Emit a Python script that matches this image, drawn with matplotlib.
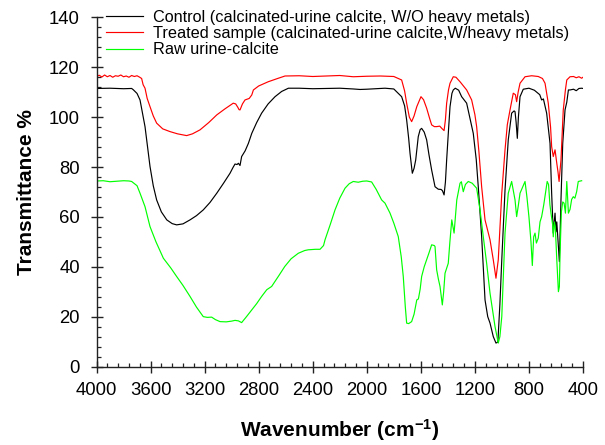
import matplotlib
matplotlib.use("Agg")
import matplotlib.pyplot as plt
from matplotlib.ticker import MultipleLocator

plt.rcParams['font.family'] = ['Liberation Sans', 'DejaVu Sans']
plt.rcParams['axes.unicode_minus'] = False
plt.rcParams['mathtext.default'] = 'regular'

# ---- data (wavenumber cm^-1, transmittance %) ----
control_wn = [4000, 3900, 3800, 3740, 3728, 3700, 3678, 3641, 3604, 3580, 3555, 3520, 3480, 3440,
              3407, 3360, 3308, 3260, 3210, 3160, 3110, 3060, 3012, 2990, 2975, 2960, 2950, 2938,
              2926, 2900, 2876, 2851, 2815, 2778, 2730, 2679, 2630, 2580, 2500, 2400, 2300, 2200,
              2100, 2050, 2000, 1900, 1865, 1800, 1742, 1720, 1705, 1690, 1680, 1663, 1650, 1638,
              1619, 1605, 1594, 1575, 1557, 1540, 1520, 1495, 1471, 1450, 1440, 1428, 1418, 1409,
              1395, 1384, 1370, 1360, 1345, 1320, 1298, 1261, 1212, 1190, 1175, 1150, 1125, 1105,
              1088, 1064, 1044, 1030, 1015, 1001, 977, 953, 928, 910, 903, 895, 886, 878, 866, 842,
              800, 760, 720, 706, 693, 669, 644, 632, 620, 607, 600, 594, 582, 575, 563, 550, 533,
              520, 508, 496, 470, 450, 430, 410, 400]
control_t = [111.5, 111.6, 111.4, 111.5, 111.0, 109.5, 106.9, 96.2, 80.2, 72.5, 66.8, 62.0, 58.8, 57.3,
             56.8, 57.2, 58.8, 60.5, 62.8, 65.8, 69.5, 73.5, 77.5, 79.8, 81.2, 81.0, 81.5, 80.6,
             84.2, 86.5, 89.5, 93.5, 97.8, 101.6, 105.3, 108.2, 110.3, 111.6, 111.6, 111.4, 111.5, 111.6,
             111.3, 111.1, 111.2, 111.5, 111.6, 111.3, 108.2, 104.5, 98.9, 91.5, 85.5, 77.5, 79.5, 82.8,
             92.2, 95.0, 95.5, 94.0, 90.9, 85.0, 78.8, 72.1, 71.1, 71.0, 70.5, 68.8, 74.0, 82.8,
             95.0, 104.2, 109.5, 110.9, 111.6, 110.8, 108.2, 105.6, 93.5, 83.0, 72.1, 52.1, 26.7, 20.0,
             17.4, 12.0, 9.4, 9.8, 25.0, 42.8, 70.8, 90.9, 101.6, 102.5, 102.2, 98.0, 91.5, 100.0, 108.2, 111.2,
             111.6, 110.8, 109.0, 106.9, 107.3, 101.6, 89.5, 69.5, 53.5, 61.5, 54.0, 58.0, 48.1, 42.1, 66.8, 89.5, 102.9,
             106.0, 110.9, 110.9, 111.2, 110.6, 111.5, 111.6, 111.5]

treated_wn = [4000, 3980, 3960, 3940, 3920, 3900, 3880, 3860, 3840, 3820, 3800, 3780, 3760, 3740,
              3720, 3700, 3680, 3666, 3655, 3641, 3625, 3604, 3580, 3555, 3510, 3456, 3400, 3333,
              3290, 3234, 3170, 3110, 3050, 2988, 2970, 2955, 2945, 2938, 2920, 2901, 2870, 2851,
              2839, 2800, 2729, 2660, 2605, 2500, 2400, 2300, 2200, 2100, 2000, 1900, 1800, 1742,
              1720, 1705, 1685, 1668, 1650, 1630, 1599, 1580, 1557, 1535, 1520, 1500, 1483, 1460,
              1445, 1428, 1418, 1409, 1395, 1384, 1360, 1340, 1310, 1261, 1224, 1200, 1187, 1170,
              1150, 1125, 1088, 1064, 1044, 1027, 1001, 977, 960, 940, 916, 900, 891, 880, 866, 829,
              780, 731, 700, 681, 657, 640, 632, 620, 607, 600, 594, 585, 577, 563, 546, 530, 520,
              496, 470, 450, 430, 410, 400]
treated_t = [116.3, 116.8, 116.1, 116.9, 116.2, 116.7, 116.0, 116.6, 116.4, 116.9, 116.2, 116.5, 116.0, 116.7,
             116.3, 116.6, 116.0, 115.5, 113.0, 111.6, 107.5, 104.2, 100.5, 97.6, 95.3, 94.2, 93.3, 92.6,
             93.3, 94.9, 97.8, 100.9, 103.3, 105.6, 105.3, 104.0, 103.0, 102.9, 105.3, 106.9, 107.5, 108.9,
             110.9, 112.5, 114.2, 115.5, 116.5, 116.6, 116.3, 116.5, 116.7, 116.2, 116.4, 116.5, 116.3, 114.9,
             110.5, 105.6, 100.0, 98.2, 100.5, 104.2, 108.2, 107.0, 103.6, 99.5, 96.9, 96.2, 96.2, 96.4,
             95.5, 94.6, 99.0, 105.6, 111.0, 113.6, 116.2, 116.0, 114.2, 110.9, 106.9, 101.0, 96.2, 86.0,
             72.1, 58.8, 50.8, 42.8, 35.4, 42.8, 69.5, 86.9, 97.0, 102.9, 109.6, 109.0, 106.2, 110.0, 113.6, 116.2,
             116.6, 116.3, 115.5, 113.6, 105.6, 96.0, 88.2, 84.2, 86.9, 84.0, 81.5, 78.0, 74.2, 82.8, 102.9, 111.0, 114.9,
             116.2, 116.3, 115.8, 116.2, 115.6, 116.0]

raw_wn = [4000, 3950, 3900, 3850, 3800, 3760, 3740, 3700, 3678, 3641, 3604, 3560, 3505, 3450,
          3407, 3360, 3308, 3260, 3210, 3180, 3148, 3120, 3086, 3040, 3000, 2975, 2950, 2926,
          2890, 2851, 2815, 2778, 2740, 2704, 2650, 2607, 2560, 2507, 2460, 2433, 2380, 2346,
          2320, 2309, 2270, 2235, 2200, 2161, 2130, 2100, 2063, 2030, 2000, 1964, 1930, 1890,
          1865, 1828, 1800, 1767, 1745, 1730, 1715, 1705, 1690, 1668, 1650, 1630, 1618, 1605,
          1594, 1575, 1557, 1540, 1520, 1500, 1495, 1483, 1470, 1458, 1441, 1431, 1421, 1397,
          1385, 1371, 1354, 1334, 1310, 1300, 1286, 1270, 1249, 1220, 1187, 1162, 1138, 1113,
          1088, 1051, 1027, 1015, 1001, 990, 977, 953, 928, 910, 903, 891, 880, 866, 829, 815,
          800, 785, 775, 765, 755, 745, 731, 718, 706, 690, 665, 655, 645, 637, 625, 620, 612,
          605, 594, 582, 575, 570, 560, 550, 540, 530, 520, 508, 496, 484, 472, 460, 447, 435, 410]
raw_t = [74.4, 74.5, 74.1, 74.3, 74.5, 74.4, 74.2, 72.5, 69.5, 64.1, 56.1, 50.0, 43.4, 39.5,
         36.1, 32.5, 28.1, 23.8, 20.0, 19.7, 19.8, 18.8, 18.0, 17.9, 18.2, 18.5, 18.3, 17.6,
         20.0, 22.7, 25.2, 28.1, 30.8, 32.1, 36.5, 40.1, 43.2, 45.4, 46.5, 46.8, 47.0, 47.0,
         48.5, 50.8, 57.0, 62.8, 67.5, 71.5, 73.3, 74.2, 73.9, 74.3, 74.4, 74.0, 71.0, 66.8,
         65.5, 61.5, 57.5, 52.1, 44.0, 36.1, 24.0, 17.4, 17.2, 18.0, 21.0, 26.7, 27.1, 31.0,
         36.1, 40.0, 42.8, 45.5, 48.8, 48.5, 48.1, 38.8, 35.0, 32.1, 24.7, 30.0, 37.4, 41.4,
         50.0, 58.8, 53.5, 66.8, 73.5, 74.1, 70.1, 73.0, 74.2, 73.5, 71.5, 62.8, 52.1, 41.4,
         29.4, 16.0, 9.4, 12.0, 20.0, 35.0, 53.5, 69.5, 74.2, 69.0, 66.8, 60.1, 64.0, 69.5, 74.2, 68.0,
         60.0, 50.0, 40.5, 52.0, 53.5, 49.5, 51.5, 58.0, 60.1, 65.0, 74.2, 73.0, 65.0, 61.5, 57.0, 52.0, 58.0,
         56.0, 42.8, 30.0, 32.0, 45.0, 62.0, 66.0, 65.5, 61.5, 74.2, 61.5, 63.0, 67.0, 68.1, 67.5, 70.1, 74.2, 74.5]

labels = ["Control (calcinated-urine calcite, W/O heavy metals)",
          "Treated sample (calcinated-urine calcite,W/heavy metals)",
          "Raw urine-calcite"]
x_ticks = [4000, 3600, 3200, 2800, 2400, 2000, 1600, 1200, 800, 400]

# ---- figure ----
fig = plt.figure(figsize=(6.05, 4.45), dpi=100)
ax = fig.add_axes([96.5 / 605, 1 - 366.5 / 445, (583 - 96.5) / 605, (366.5 - 17.4) / 445])

l1, = ax.plot(control_wn, control_t, color='black', lw=0.85)
l2, = ax.plot(treated_wn, treated_t, color='#ff0000', lw=0.85)
l3, = ax.plot(raw_wn, raw_t, color='#00ff00', lw=0.85)

ax.set_xlim(4000, 400)
ax.set_ylim(0, 140)
ax.set_xticks(x_ticks)
ax.set_xticklabels([str(t) for t in x_ticks])
ax.xaxis.set_minor_locator(MultipleLocator(80))
ax.yaxis.set_major_locator(MultipleLocator(20))
ax.yaxis.set_minor_locator(MultipleLocator(4))

for s in ['top', 'right']:
    ax.spines[s].set_visible(False)
for s in ['left', 'bottom']:
    ax.spines[s].set_linewidth(1.0)
    ax.spines[s].set_color('#222222')

ax.tick_params(axis='both', which='major', direction='inout', length=9, width=1.0,
               labelsize=13.3, colors='#222222', labelcolor='black')
ax.tick_params(axis='x', which='major', pad=7)
ax.tick_params(axis='y', which='major', pad=7.5)
ax.tick_params(axis='both', which='minor', direction='in', length=3.1, width=0.9, colors='#222222')

ax.set_xlabel("Wavenumber (cm$^{-1}$)", fontsize=15, fontweight='bold', labelpad=13)
ax.set_ylabel("Transmittance %", fontsize=15, fontweight='bold', labelpad=9)

fig.legend([l1, l2, l3], labels, loc='upper left', bbox_to_anchor=(106 / 605, 1 - 10 / 445),
           frameon=False, fontsize=11.7, borderpad=0, borderaxespad=0,
           handlelength=2.3, handletextpad=0.58, labelspacing=0.07)

fig.savefig("out.png", dpi=100)
